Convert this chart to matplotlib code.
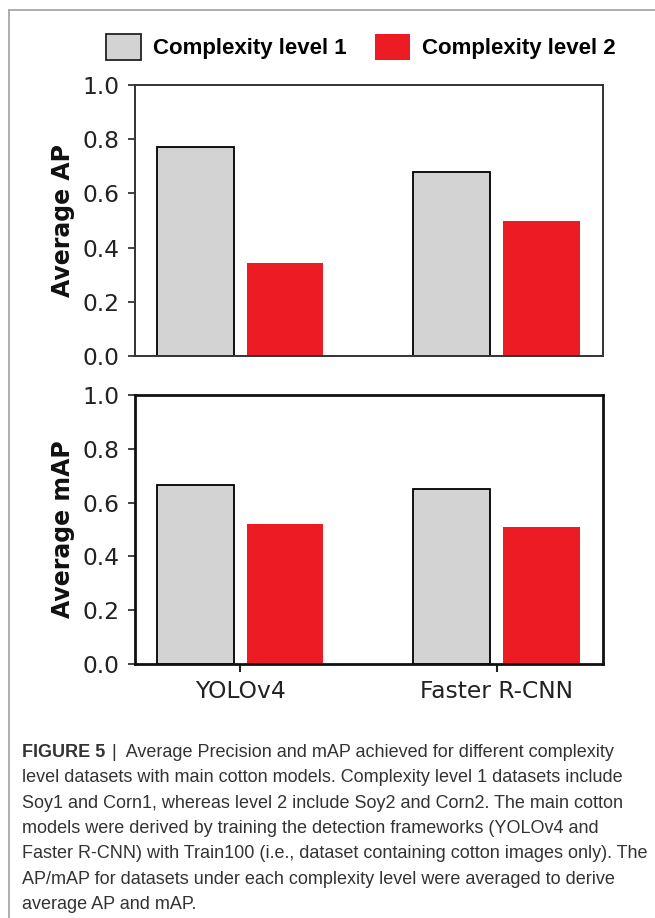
import matplotlib
matplotlib.use('agg')
import matplotlib.pyplot as plt
from matplotlib.lines import Line2D
from matplotlib.patches import Patch
import numpy as np

# values
models = ["YOLOv4", "Faster R-CNN"]
level_names = ["Complexity level 1", "Complexity level 2"]
avg_ap_level1 = [0.77, 0.68]
avg_ap_level2 = [0.345, 0.50]
avg_map_level1 = [0.665, 0.65]
avg_map_level2 = [0.52, 0.51]
yticks = [0.0, 0.2, 0.4, 0.6, 0.8, 1.0]

caption_lines = [
    "level datasets with main cotton models. Complexity level 1 datasets include",
    "Soy1 and Corn1, whereas level 2 include Soy2 and Corn2. The main cotton",
    "models were derived by training the detection frameworks (YOLOv4 and",
    "Faster R-CNN) with Train100 (i.e., dataset containing cotton images only). The",
    "AP/mAP for datasets under each complexity level were averaged to derive",
    "average AP and mAP.",
]
caption_head = "FIGURE 5"
caption_first = "|  Average Precision and mAP achieved for different complexity"

GREY = "#d3d3d3"
RED = "#ed1c24"
W, H = 655, 918

fig = plt.figure(figsize=(W / 100, H / 100), dpi=100)
ax1 = fig.add_axes([135 / W, 1 - 356 / H, 468 / W, 271 / H])
ax2 = fig.add_axes([135 / W, 1 - 664 / H, 468 / W, 269 / H])

x = np.arange(len(models))
width = 0.3
off = 0.175


def draw_panel(ax, lvl1, lvl2, ylabel, spine_w, spine_c):
    ax.bar(x - off, lvl1, width, color=GREY, edgecolor='black', linewidth=1.3)
    ax.bar(x + off, lvl2, width, color=RED, edgecolor='none')
    ax.set_ylim(0, 1.0)
    ax.set_yticks(yticks)
    ax.set_yticklabels([f"{t:.1f}" for t in yticks])
    ax.tick_params(axis='y', labelsize=16.8, length=5, width=1.2, pad=6,
                   colors='#222222')
    ax.set_ylabel(ylabel, fontsize=17, fontweight='bold', color='#111111')
    ax.yaxis.set_label_coords(-0.128, 0.5)
    for s in ax.spines.values():
        s.set_linewidth(spine_w)
        s.set_color(spine_c)


draw_panel(ax1, avg_ap_level1, avg_ap_level2, "Average AP", 1.4, '#333333')
draw_panel(ax2, avg_map_level1, avg_map_level2, "Average mAP", 2.0, '#111111')

ax1.set_xlim(-0.41, 1.415)
ax2.set_xlim(-0.41, 1.415)
ax1.set_xticks([])
ax2.set_xticks(x)
ax2.set_xticklabels(models)
ax2.tick_params(axis='x', labelsize=16.8, length=5.5, width=1.5, pad=6,
                colors='#222222')

# legend on top
handles = [Patch(facecolor=GREY, edgecolor='#222222', linewidth=1.3),
           Patch(facecolor=RED, edgecolor='none')]
fig.legend(handles, level_names, loc='center', ncol=2, frameon=False,
           bbox_to_anchor=(361 / W, 1 - 47 / H),
           prop={'family': 'Liberation Sans', 'weight': 'bold', 'size': 16},
           handlelength=1.58, handleheight=1.49, handletextpad=0.55,
           columnspacing=1.26)

# grey frame of the figure panel (open on right and bottom)
fig.add_artist(Line2D([9 / W, 1], [1 - 10 / H, 1 - 10 / H],
                      transform=fig.transFigure, color='#a8a8a8', lw=1.3))
fig.add_artist(Line2D([9 / W, 9 / W], [0, 1 - 10 / H],
                      transform=fig.transFigure, color='#a8a8a8', lw=1.3))

# caption
cap_font = {'family': 'Liberation Sans', 'size': 13.0, 'color': '#333333'}
x0 = 22 / W
base = 757
step = 25.3
head = fig.text(x0, 1 - base / H, caption_head, fontweight='bold',
                va='baseline', **cap_font)
ax1.annotate(caption_first, xy=(1, 0), xycoords=head, xytext=(5, 0),
             textcoords='offset points', va='bottom', ha='left',
             annotation_clip=False, **cap_font)
for i, line in enumerate(caption_lines):
    fig.text(x0, 1 - (base + step * (i + 1)) / H, line, va='baseline',
             **cap_font)

fig.savefig("out.png", dpi=100, facecolor='white')
